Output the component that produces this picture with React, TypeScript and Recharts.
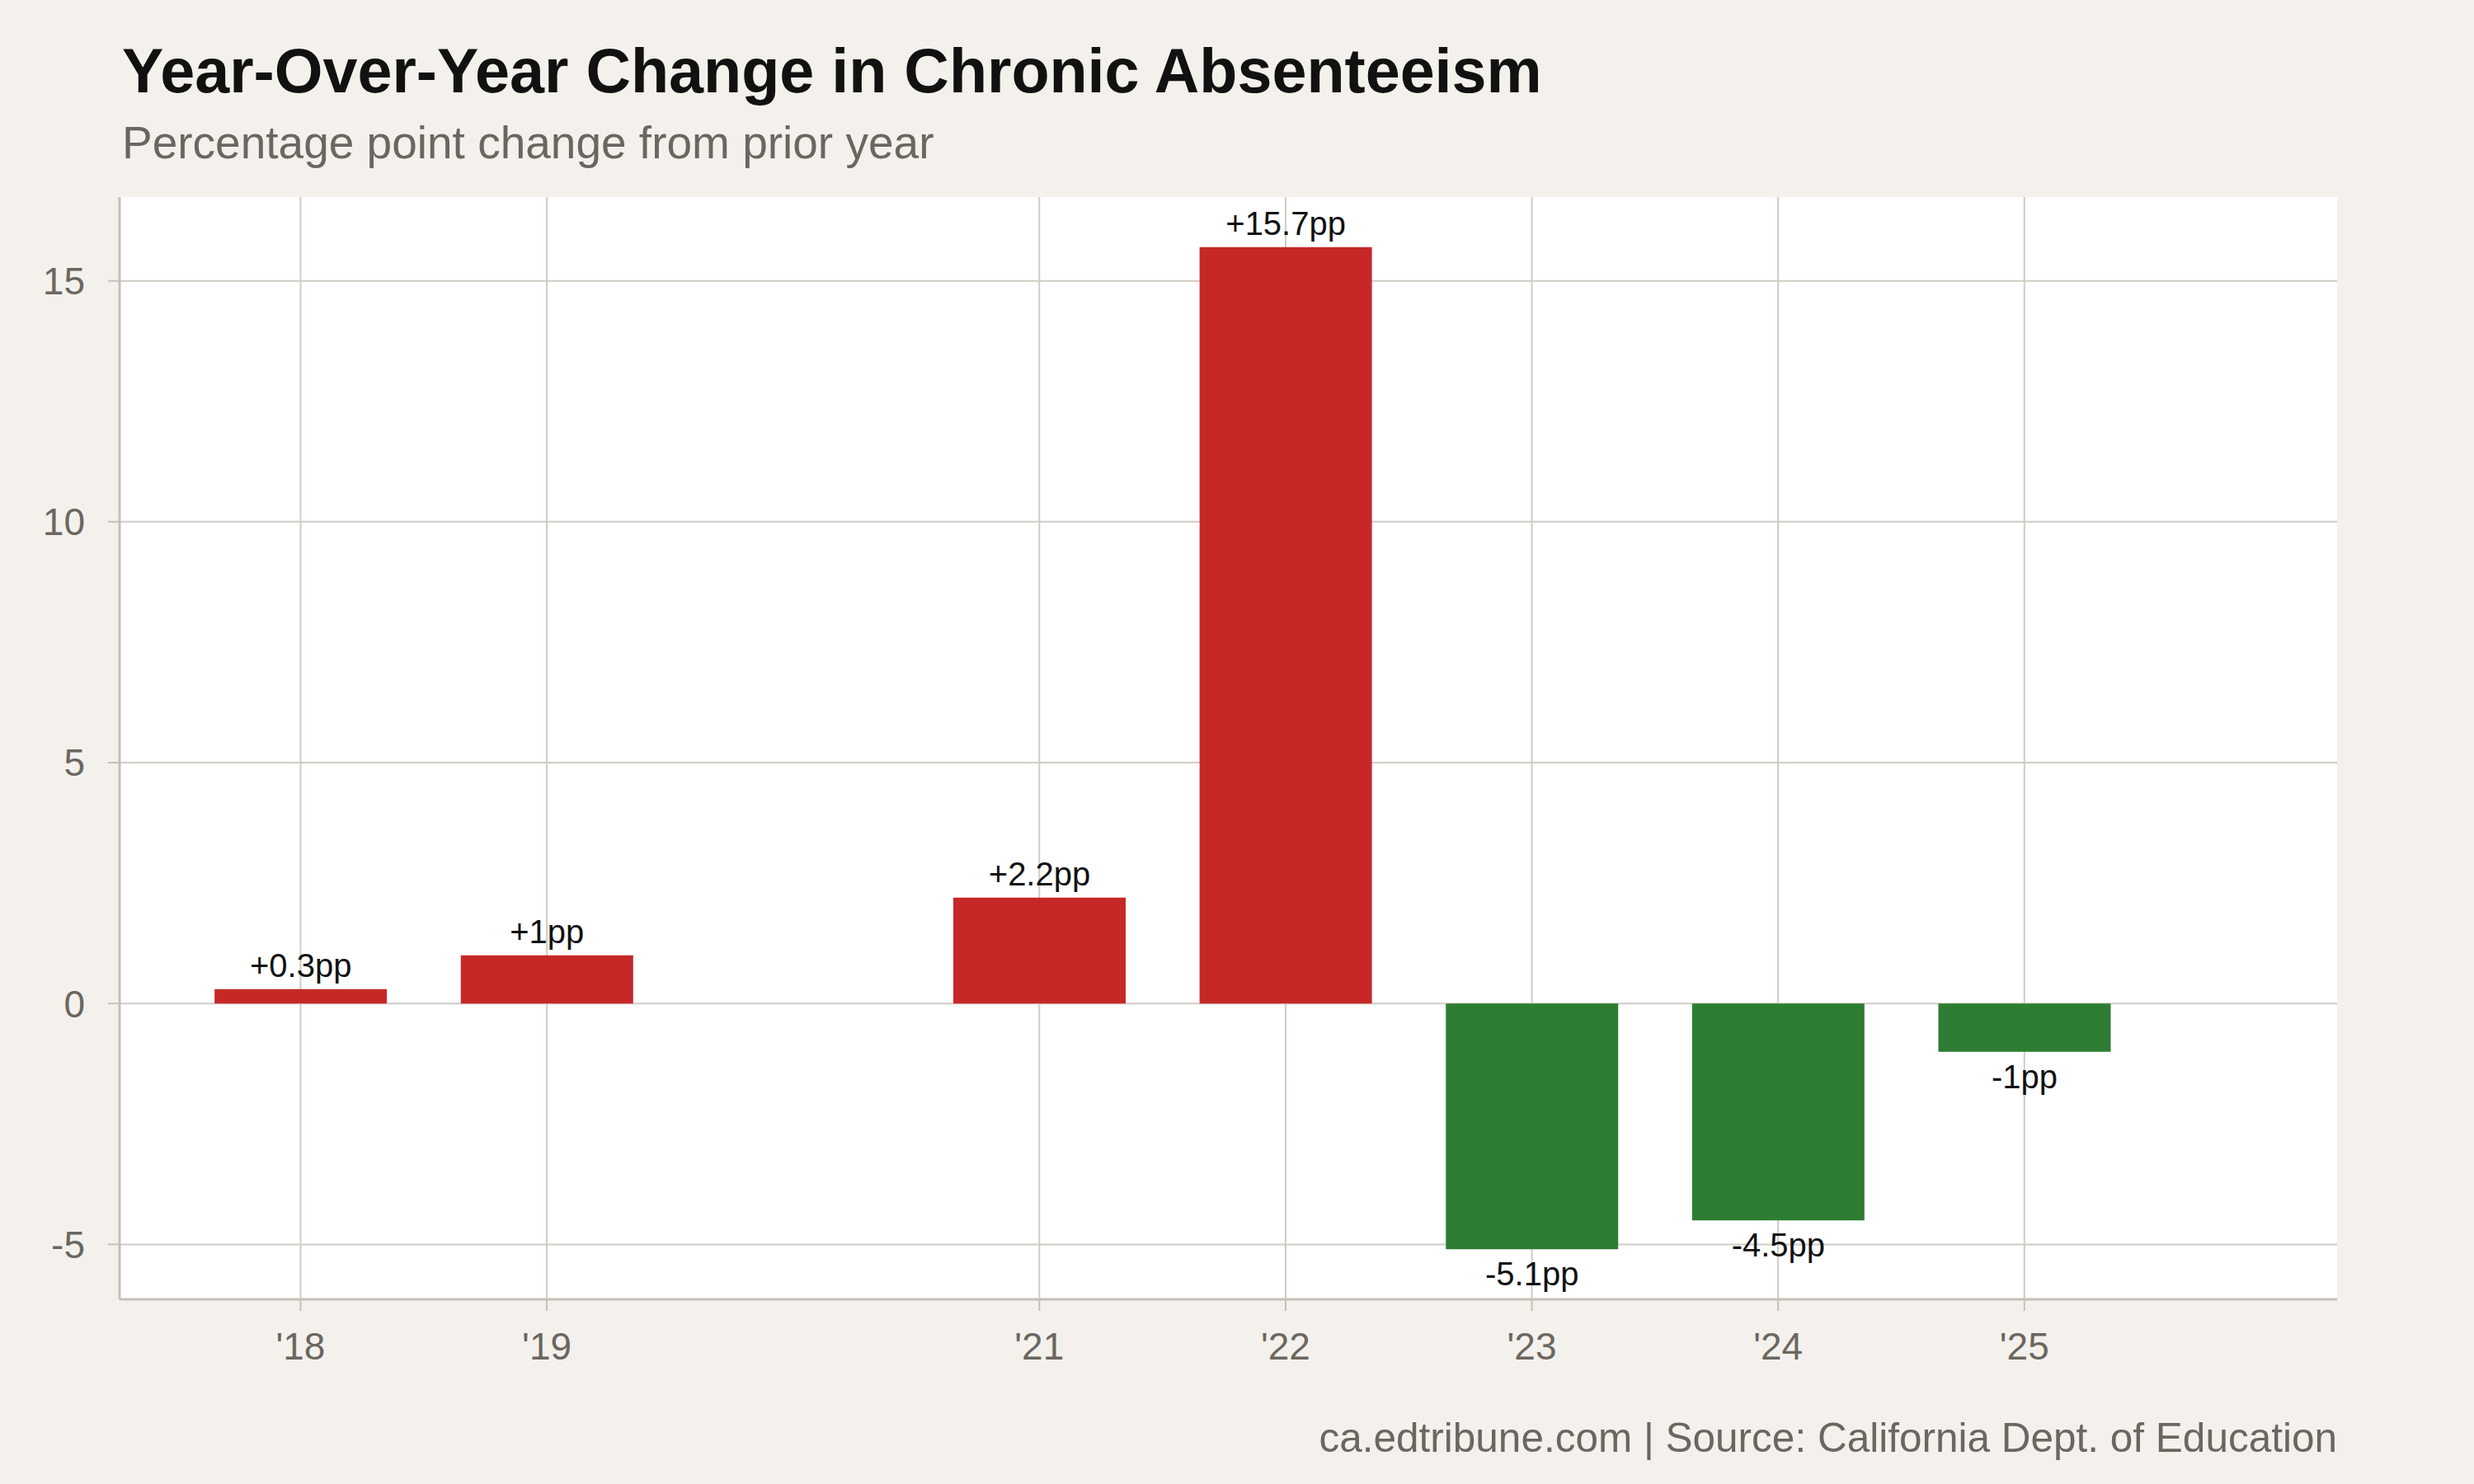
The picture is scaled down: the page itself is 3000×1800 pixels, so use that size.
import React from 'react';
import { BarChart, Bar, XAxis, YAxis, CartesianGrid, Cell, LabelList } from 'recharts';

const years = [2018, 2019, 2021, 2022, 2023, 2024, 2025];
const changes = [0.3, 1.0, 2.2, 15.7, -5.1, -4.5, -1.0];
const valueLabels = ['+0.3pp', '+1pp', '+2.2pp', '+15.7pp', '-5.1pp', '-4.5pp', '-1pp'];
const yearTickLabels = ["'18", "'19", "'21", "'22", "'23", "'24", "'25"];
const yTicks = [-5, 0, 5, 10, 15];

const title = 'Year-Over-Year Change in Chronic Absenteeism';
const subtitle = 'Percentage point change from prior year';
const caption = 'ca.edtribune.com | Source: California Dept. of Education';

const data = years.map((y, i) => ({ year: y, change: changes[i], label: valueLabels[i] }));

const W = 3000;
const H = 1800;
const FONT = '"Liberation Sans", Arial, Helvetica, sans-serif';
const BG = '#f4f1ec';
const GRID = '#d0cbc3';
const AXIS = '#c6c0b6';
const MUTED = '#6b6660';
const RED = '#c62828';
const GREEN = '#2e7d32';

const margin = { top: 239, right: 166, bottom: 144, left: 0 };
const yAxisWidth = 145;
const xDomain: [number, number] = [2017.265, 2026.27];
const yDomain: [number, number] = [-6.14, 16.74];
const plotWidth = W - margin.left - margin.right - yAxisWidth;
const barSize = Math.round((0.7 * plotWidth) / (xDomain[1] - xDomain[0]));

const tickLabelMap: Record<number, string> = {};
years.forEach((y, i) => (tickLabelMap[y] = yearTickLabels[i]));

const renderLabel = (props: any) => {
  const { x, y, width, height, index } = props;
  const v = changes[index];
  const top = Math.min(y, y + height);
  const bottom = Math.max(y, y + height);
  const cx = x + width / 2;
  const ty = v >= 0 ? top - 15 : bottom + 44;
  return (
    <text x={cx} y={ty} textAnchor="middle" fontFamily={FONT} fontSize={40} fill="#111">
      {valueLabels[index]}
    </text>
  );
};

const toFn = (s: any): ((v: number) => number) | null => {
  if (typeof s === 'function') return s;
  if (s && typeof s.map === 'function') return (v: number) => s.map(v);
  if (s && typeof s.scale === 'function') return (v: number) => s.scale(v);
  return null;
};

const hGen = (props: any) => {
  const f = toFn(props?.yAxis?.scale);
  if (f) return yTicks.map((t) => f(t));
  const o = props.offset;
  return yTicks.map((t) => o.top + ((yDomain[1] - t) / (yDomain[1] - yDomain[0])) * o.height);
};
const vGen = (props: any) => {
  const f = toFn(props?.xAxis?.scale);
  if (f) return years.map((t) => f(t));
  const o = props.offset;
  return years.map((t) => o.left + ((t - xDomain[0]) / (xDomain[1] - xDomain[0])) * o.width);
};

export default function App() {
  return (
    <div style={{ position: 'absolute', left: 0, top: 0, width: W, height: H, background: BG }}>
      <BarChart width={W} height={H} data={data} margin={margin}>
        <CartesianGrid
          fill="#ffffff"
          stroke={GRID}
          strokeWidth={2}
          horizontalCoordinatesGenerator={hGen}
          verticalCoordinatesGenerator={vGen}
        />
        <XAxis
          dataKey="year"
          type="number"
          domain={xDomain}
          allowDataOverflow
          ticks={years}
          tickFormatter={(v: number) => tickLabelMap[v] ?? ''}
          interval={0}
          height={80}
          tickSize={14}
          tickMargin={26}
          axisLine={{ stroke: AXIS, strokeWidth: 3 }}
          tickLine={{ stroke: AXIS, strokeWidth: 2 }}
          tick={{ fill: MUTED, fontSize: 46, fontFamily: FONT }}
        />
        <YAxis
          type="number"
          domain={yDomain}
          allowDataOverflow
          ticks={yTicks}
          interval={0}
          width={yAxisWidth}
          tickSize={14}
          tickMargin={28}
          axisLine={{ stroke: AXIS, strokeWidth: 3 }}
          tickLine={{ stroke: AXIS, strokeWidth: 2 }}
          tick={{ fill: MUTED, fontSize: 46, fontFamily: FONT }}
        />
        <Bar dataKey="change" barSize={barSize} isAnimationActive={false}>
          {data.map((d, i) => (
            <Cell key={i} fill={d.change >= 0 ? RED : GREEN} />
          ))}
          <LabelList dataKey="label" content={renderLabel} />
        </Bar>
      </BarChart>
      <svg
        width={W}
        height={H}
        style={{ position: 'absolute', left: 0, top: 0, pointerEvents: 'none' }}
      >
        <text x={148} y={112} fontFamily={FONT} fontSize={75.5} fontWeight="bold" fill="#111">
          {title}
        </text>
        <text x={148} y={192} fontFamily={FONT} fontSize={55} fill={MUTED}>
          {subtitle}
        </text>
        <text x={2834} y={1761} textAnchor="end" fontFamily={FONT} fontSize={49.5} fill={MUTED}>
          {caption}
        </text>
      </svg>
    </div>
  );
}
